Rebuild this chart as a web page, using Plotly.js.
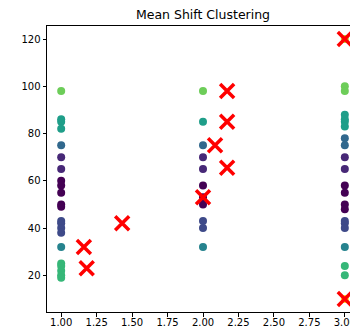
<!DOCTYPE html>
<html><head><meta charset="utf-8">
<script src="https://cdn.plot.ly/plotly-3.0.1.min.js"></script>
<style>html,body{margin:0;padding:0;overflow:hidden;background:#fff;width:350px;height:328px}</style>
</head><body><div id="chart" style="width:372px;height:328px"></div>
<script>
// Data points (feature x, feature y) and cluster labels
const pointX = [1,1,1,1,1,1,1,1,1,1,1,1,1,1,1,1,1,1,1,1,1,1,
                2,2,2,2,2,2,2,2,2,2,2,
                3,3,3,3,3,3,3,3,3,3,3,3,3,3,3,3,3,3,3,3,3,3];
const pointY = [98,86,85,82,75,70,65,60,58,55,50,49,43,42,40,38,32,25,24,22,20,19,
                98,85,75,70,65,58,53,50,43,40,32,
                100,98,88,86,85,83,78,75,70,65,58,55,50,48,43,42,40,32,24,20,10,120];
const pointLabel = [7,5,5,5,3,1,1,0,0,0,0,0,2,2,2,2,4,6,6,6,6,6,
                    7,5,3,1,1,0,0,0,2,2,4,
                    7,7,5,5,5,5,3,3,1,1,0,0,0,0,2,2,2,4,6,6,9,8];
// Cluster centres found by Mean Shift
const centerX = [1.16, 1.18, 1.43, 2.17, 2.17, 2.085, 2.17, 2.0, 3.0, 3.0];
const centerY = [32, 23, 42, 98, 85, 75, 65.5, 53, 120, 10];

const xTicks = [1.00,1.25,1.50,1.75,2.00,2.25,2.50,2.75,3.00];
const yTicks = [20,40,60,80,100,120];

const traces = [
  {x: pointX, y: pointY, type:'scatter', mode:'markers',
   marker:{size:8, color: pointLabel, colorscale:'Viridis', cmin:0, cmax:9, line:{width:0}},
   hoverinfo:'skip'},
  {x: centerX, y: centerY, type:'scatter', mode:'markers',
   marker:{symbol:'x-thin', size:14, color:'red', line:{color:'red', width:3.5}},
   hoverinfo:'skip'}
];

const layout = {
  width:372, height:328,
  margin:{l:47, r:13, t:26, b:16},
  showlegend:false,
  paper_bgcolor:'#fff', plot_bgcolor:'#fff',
  font:{family:'DejaVu Sans', size:10, color:'#000'},
  title:{text:'Mean Shift Clustering', font:{family:'DejaVu Sans', size:12.5, color:'#000'},
         x:0.5, xref:'paper', xanchor:'center', y:1-15/328, yref:'container', yanchor:'middle'},
  xaxis:{range:[0.9, 3.1], tickvals:xTicks, ticktext:xTicks.map(v=>v.toFixed(2)),
         showgrid:false, zeroline:false, showline:true, mirror:true, linecolor:'#000', linewidth:1,
         ticks:'outside', ticklen:3.5, tickcolor:'#000', tickwidth:1, ticklabelstandoff:-3},
  yaxis:{range:[4.5, 125.5], tickvals:yTicks, ticktext:yTicks.map(String),
         showgrid:false, zeroline:false, showline:true, mirror:true, linecolor:'#000', linewidth:1,
         ticks:'outside', ticklen:3.5, tickcolor:'#000', tickwidth:1}
};
Plotly.newPlot('chart', traces, layout, {displayModeBar:false, staticPlot:true});
</script></body></html>
